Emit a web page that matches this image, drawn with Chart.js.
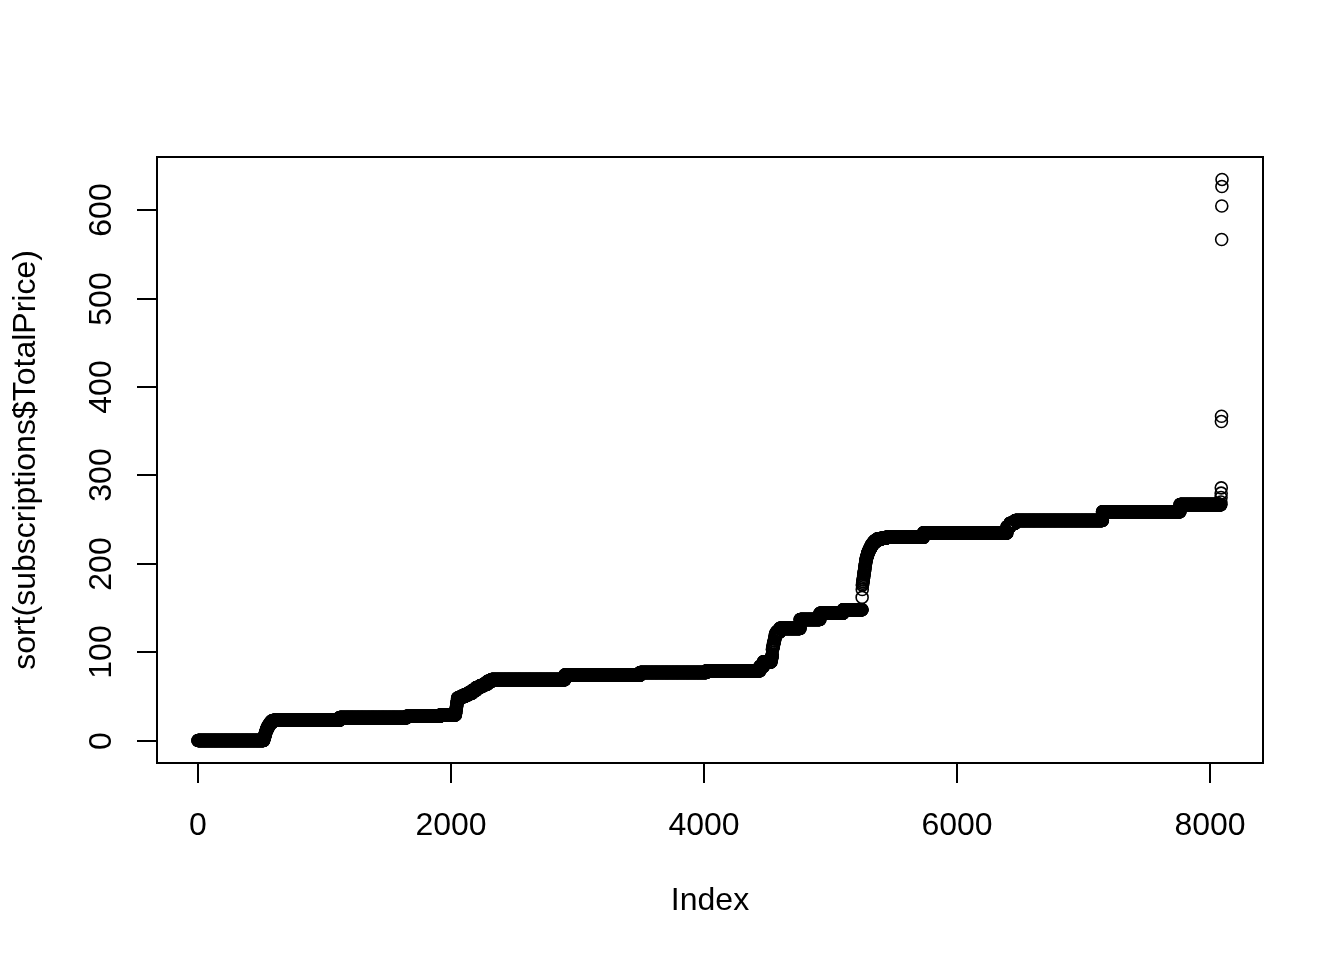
<!DOCTYPE html>
<html>
<head>
<meta charset="utf-8">
<title>sort(subscriptions$TotalPrice)</title>
<script src="https://cdn.jsdelivr.net/npm/chart.js@4.4.1/dist/chart.umd.min.js"></script>
<style>
    body { margin: 0; background: #ffffff; }
    #chartBox { width: 1344px; height: 960px; }
</style>
</head>
<body>
<div id="chartBox"><canvas id="indexPlot" width="1344" height="960"></canvas></div>
<script>
// Sorted values come in runs of equal prices: last index of each run and its value
const runEnd = [520, 524, 528, 532, 536, 540, 546, 553, 561, 570, 582, 600,
    1120, 1650, 1915, 2035,
    2038, 2040, 2042, 2044, 2046, 2048, 2050, 2052, 2080, 2110, 2140, 2170, 2200, 2230, 2260, 2290, 2320, 2900,
    3495, 4020, 4443, 4470, 4530, 4533, 4536, 4539, 4541, 4543, 4546, 4549, 4552, 4555, 4558, 4561, 4564, 4567, 4575, 4600,
    4760, 4917, 5100, 5250, 5251, 5252,
    5254, 5256, 5258, 5260, 5262, 5264, 5266, 5268, 5270, 5272, 5274, 5276, 5278, 5280, 5283, 5286, 5290, 5294, 5299, 5305,
    5312, 5319, 5327, 5337, 5349, 5369, 5400, 5440,
    5735, 6395, 6420, 6460, 7150, 7763, 8086,
    8087, 8088, 8089, 8090, 8091, 8092, 8093, 8094, 8095, 8096];
const runValue = [0, 2, 4, 6, 8, 10, 12, 14, 16, 18, 20, 22,
    23, 26, 27.5, 29,
    31, 33, 35, 37, 39, 41, 43, 45, 48, 50, 52, 54, 57, 60, 62, 64, 67, 69,
    74, 77, 79, 84, 89, 91, 93, 95, 97, 103, 105, 107, 109, 111, 113, 115, 117, 119, 121, 123,
    127, 137, 144, 148, 162, 171,
    176, 178, 180, 182, 184, 186, 188, 190, 192, 194, 196, 198, 200, 202, 204, 206, 208, 210, 212, 214,
    216, 218, 220, 222, 224, 226, 228, 229,
    230, 235, 242, 246, 249, 259, 267,
    270, 275, 280, 286, 361, 367, 567, 605, 627, 635];

const xTicks = [0, 2000, 4000, 6000, 8000];
const yTicks = [0, 100, 200, 300, 400, 500, 600];
const xTitle = 'Index';
const yTitle = 'sort(subscriptions$TotalPrice)';

// expand the runs into one point per index
const points = [];
let start = 1;
runEnd.forEach((end, i) => {
    for (let k = start; k <= end; k++) {
        points.push({ x: k, y: runValue[i] });
    }
    start = end + 1;
});

// R style axes: box, outward ticks, rotated y labels
const rAxes = {
    id: 'rAxes',
    afterDraw(chart) {
        const ctx = chart.ctx;
        const area = chart.chartArea;
        const xs = chart.scales.x;
        const ys = chart.scales.y;
        ctx.save();
        ctx.strokeStyle = '#000';
        ctx.fillStyle = '#000';
        ctx.lineWidth = 2;
        ctx.strokeRect(area.left, area.top, area.right - area.left, area.bottom - area.top);

        ctx.font = '32px "Liberation Sans", Arial, sans-serif';
        ctx.textAlign = 'center';
        ctx.textBaseline = 'alphabetic';

        xTicks.forEach(t => {
            const px = Math.round(xs.getPixelForValue(t));
            ctx.beginPath();
            ctx.moveTo(px, area.bottom);
            ctx.lineTo(px, area.bottom + 20);
            ctx.stroke();
            ctx.fillText(String(t), px, area.bottom + 72);
        });

        yTicks.forEach(t => {
            const py = Math.round(ys.getPixelForValue(t));
            ctx.beginPath();
            ctx.moveTo(area.left, py);
            ctx.lineTo(area.left - 20, py);
            ctx.stroke();
            ctx.save();
            ctx.translate(area.left - 46, py);
            ctx.rotate(-Math.PI / 2);
            ctx.fillText(String(t), 0, 0);
            ctx.restore();
        });

        // axis titles
        ctx.fillText(xTitle, (area.left + area.right) / 2, area.bottom + 147);
        ctx.save();
        ctx.translate(35, (area.top + area.bottom) / 2);
        ctx.rotate(-Math.PI / 2);
        ctx.fillText(yTitle, 0, 0);
        ctx.restore();
        ctx.restore();
    }
};

const ctx = document.getElementById('indexPlot').getContext('2d');

const config = {
    type: 'scatter',
    data: {
        datasets: [{
            data: points,
            pointStyle: 'circle',
            pointRadius: 6,
            pointBorderWidth: 1.6,
            borderColor: '#000000',
            backgroundColor: 'rgba(0,0,0,0)',
            showLine: false
        }]
    },
    options: {
        responsive: false,
        animation: false,
        events: [],
        layout: {
            padding: { left: 157, top: 157, right: 81, bottom: 197 }
        },
        plugins: {
            legend: { display: false },
            tooltip: { enabled: false }
        },
        scales: {
            x: { type: 'linear', display: false, min: -322.8, max: 8419.8 },
            y: { type: 'linear', display: false, min: -25.4, max: 660.4 }
        }
    },
    plugins: [rAxes]
};

const indexPlot = new Chart(ctx, config);
</script>
</body>
</html>
